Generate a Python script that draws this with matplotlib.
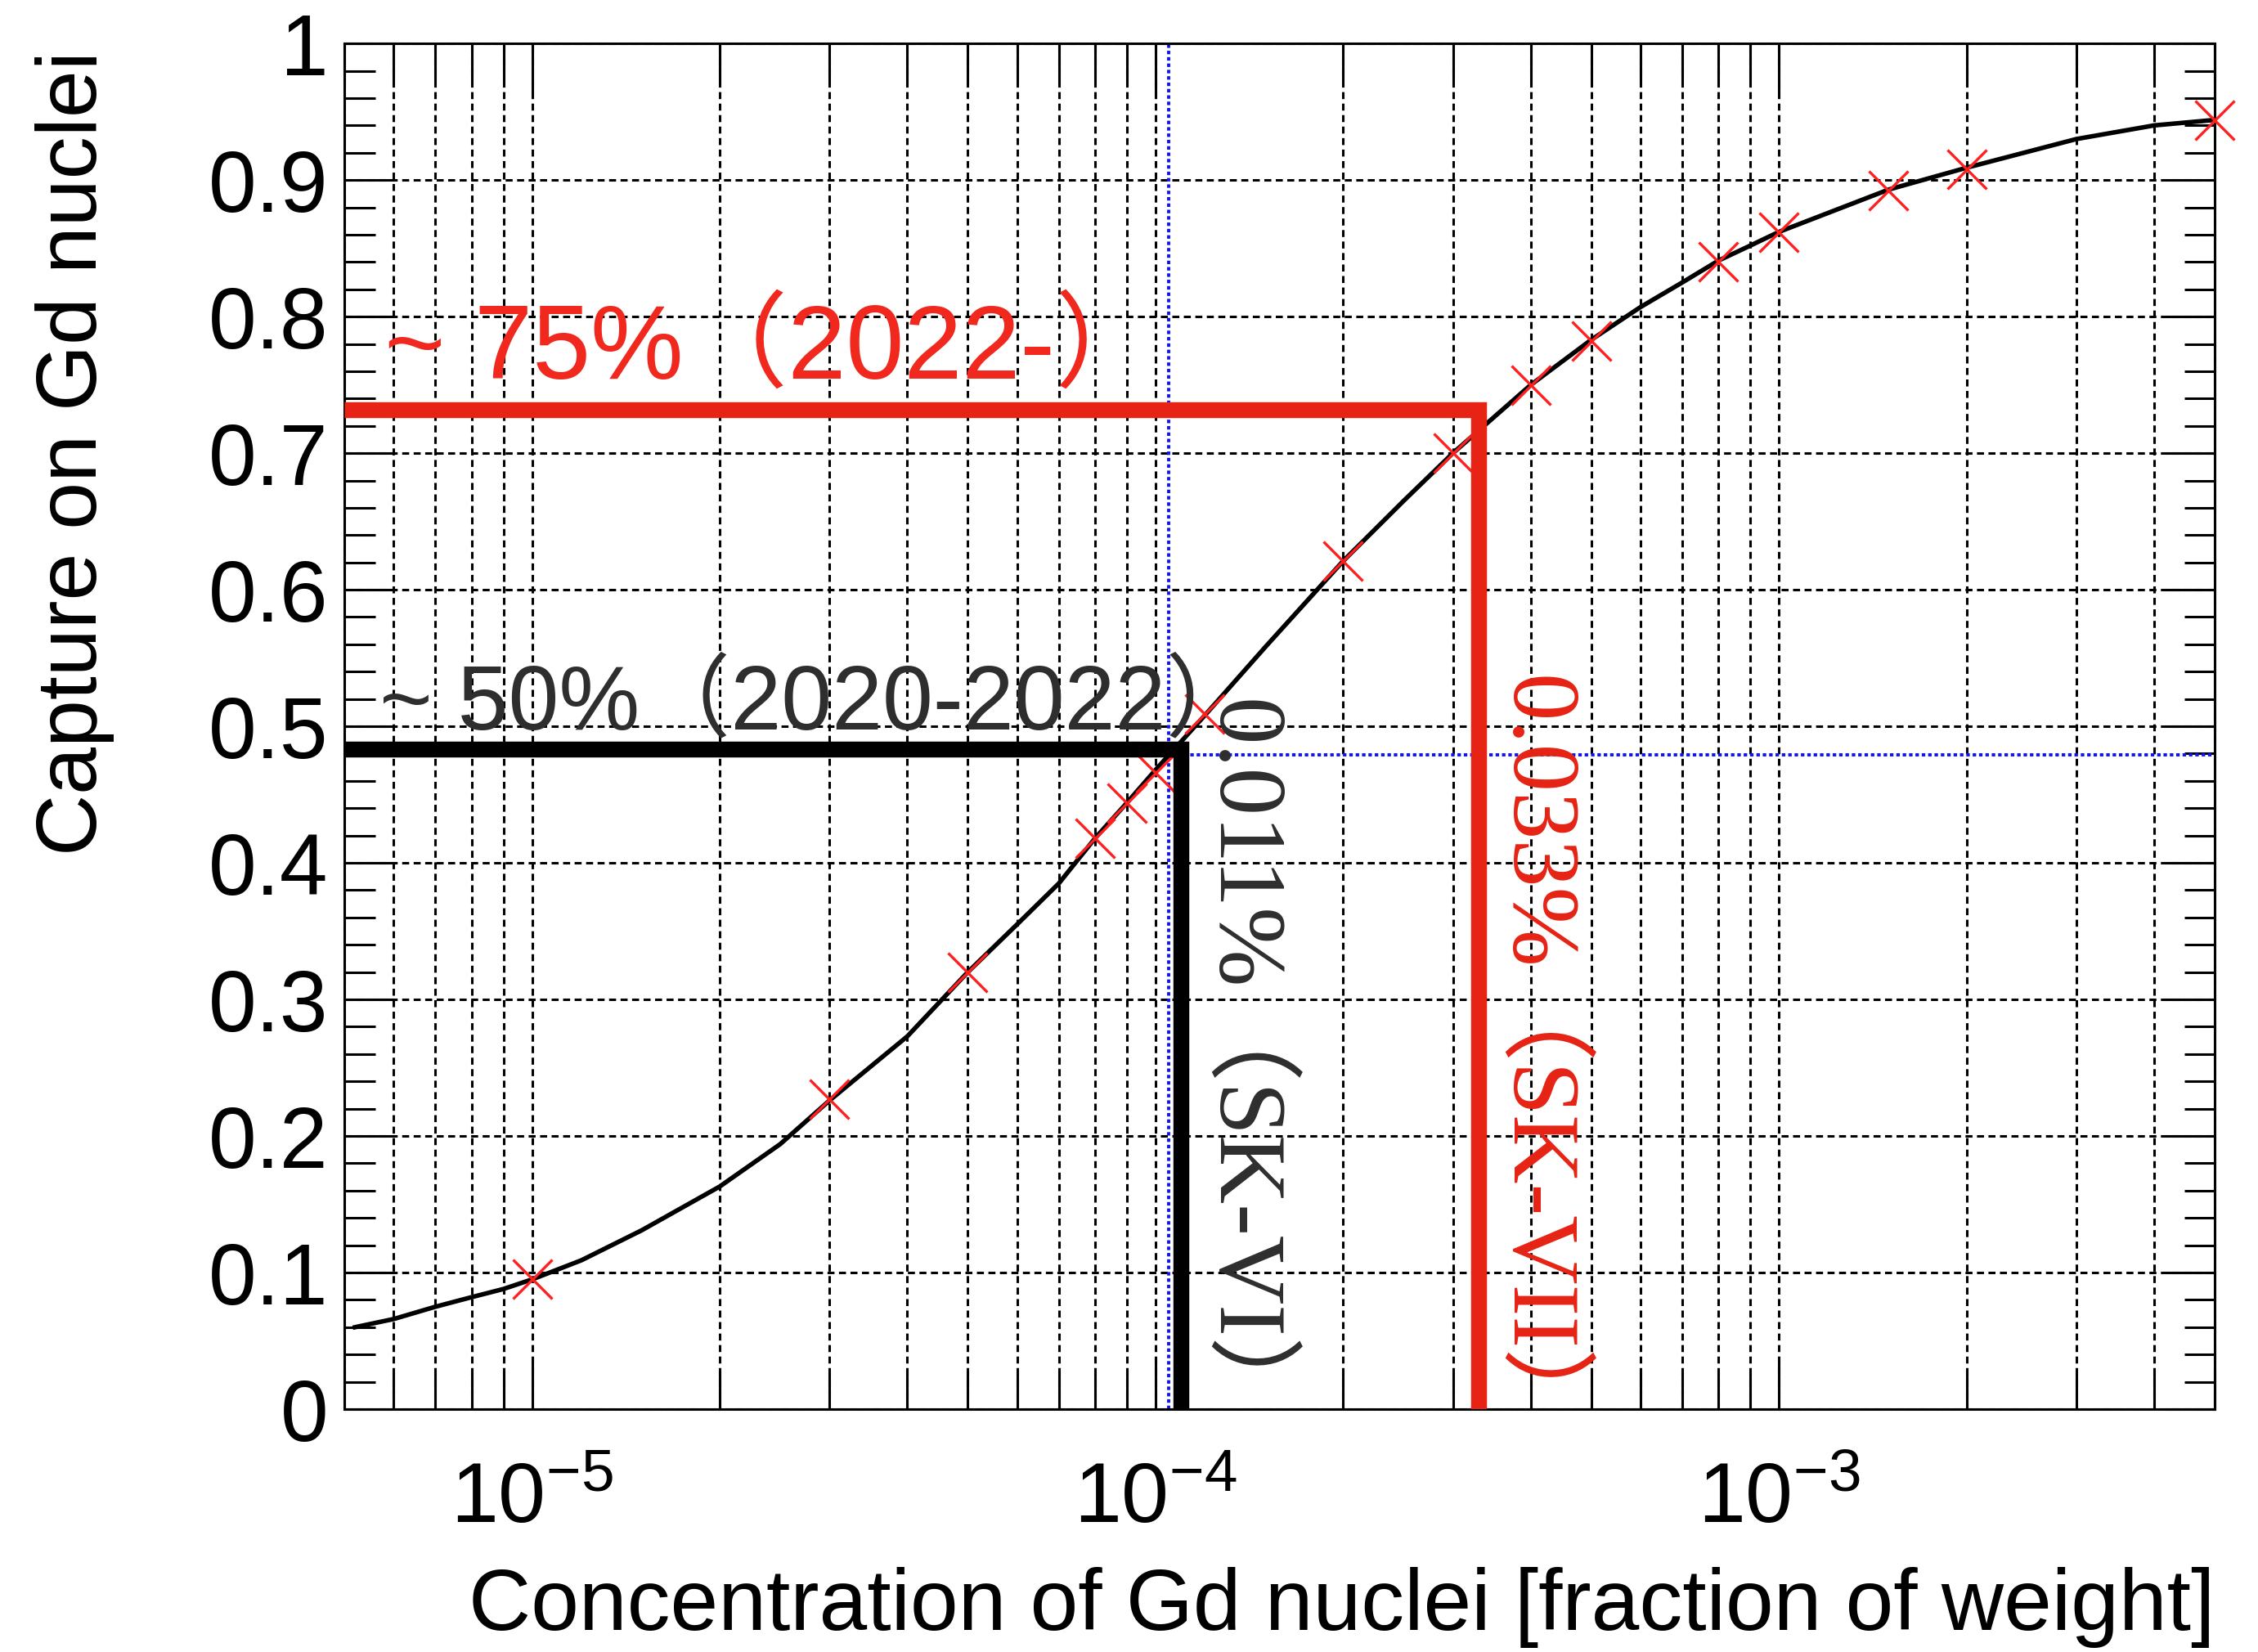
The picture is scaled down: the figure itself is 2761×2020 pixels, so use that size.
import numpy as np
import matplotlib.pyplot as plt
from matplotlib.ticker import LogLocator, FixedLocator, FixedFormatter, MultipleLocator, NullFormatter

plt.rcParams['font.family'] = ['Liberation Sans', 'Noto Sans CJK JP']
plt.rcParams['mathtext.fontset'] = 'custom'
plt.rcParams['mathtext.rm'] = 'Liberation Sans'

# Simulated points: Gd concentration [fraction of weight] vs capture fraction on Gd
conc = [1e-5, 3e-5, 5e-5, 8e-5, 9e-5, 1e-4, 1.2e-4, 2e-4, 3e-4,
        4e-4, 5e-4, 8e-4, 1e-3, 1.5e-3, 2e-3, 5e-3]
capture = [0.095, 0.227, 0.320, 0.418, 0.444, 0.466, 0.509, 0.621, 0.700,
           0.750, 0.782, 0.840, 0.862, 0.892, 0.908, 0.944]

# Fit curve through the points
fit_conc = [5.2e-6, 6e-6, 7e-6, 8e-6, 9e-6, 1e-5, 1.2e-5, 1.5e-5, 2e-5, 2.5e-5,
            3e-5, 4e-5, 5e-5, 6e-5, 7e-5, 8e-5, 9e-5, 1e-4, 1.2e-4, 1.5e-4,
            2e-4, 2.5e-4, 3e-4, 4e-4, 5e-4, 6e-4, 7e-4, 8e-4, 9e-4, 1e-3,
            1.5e-3, 2e-3, 3e-3, 4e-3, 5e-3]
fit_capture = [0.060, 0.066, 0.075, 0.082, 0.088, 0.095, 0.109, 0.131, 0.163, 0.194,
               0.226, 0.273, 0.320, 0.355, 0.385, 0.418, 0.444, 0.468, 0.508, 0.558,
               0.621, 0.665, 0.700, 0.750, 0.783, 0.807, 0.825, 0.841, 0.852, 0.862,
               0.893, 0.909, 0.930, 0.940, 0.944]

# Operating points
sk6_conc, sk6_capture = 1.1e-4, 0.483    # 0.011% (SK-VI)
sk7_conc, sk7_capture = 3.3e-4, 0.732    # 0.033% (SK-VII)
guide_conc, guide_capture = 1.05e-4, 0.479

xlim = (5e-6, 5e-3)
ylim = (0, 1)
xtick_vals = [1e-5, 1e-4, 1e-3]
xtick_labels = [r'$\mathregular{10^{-5}}$', r'$\mathregular{10^{-4}}$', r'$\mathregular{10^{-3}}$']
ytick_vals = [0, 0.1, 0.2, 0.3, 0.4, 0.5, 0.6, 0.7, 0.8, 0.9, 1.0]
ytick_labels = ['0', '0.1', '0.2', '0.3', '0.4', '0.5', '0.6', '0.7', '0.8', '0.9', '1']

RED = '#e62314'
MARK = '#ff1f1f'
GRAY = '#2e2e2e'

fig = plt.figure(figsize=(27.61, 20.20), dpi=100)
ax = fig.add_axes([0.1525, 0.1470, 0.8283, 0.8267])

ax.set_xscale('log')
ax.set_xlim(*xlim)
ax.set_ylim(*ylim)

# ticks
ax.xaxis.set_major_locator(FixedLocator(xtick_vals))
ax.xaxis.set_major_formatter(FixedFormatter(xtick_labels))
ax.xaxis.set_minor_locator(LogLocator(base=10, subs=np.arange(2, 10)))
ax.xaxis.set_minor_formatter(NullFormatter())
ax.yaxis.set_major_locator(FixedLocator(ytick_vals))
ax.yaxis.set_major_formatter(FixedFormatter(ytick_labels))
ax.yaxis.set_minor_locator(MultipleLocator(0.02))

ax.tick_params(which='both', direction='in', top=True, right=True, width=2.2, colors='black')
ax.tick_params(axis='x', which='major', length=45, pad=46, labelsize=75)
ax.tick_params(axis='x', which='minor', length=33)
ax.tick_params(axis='y', which='major', length=43, pad=14, labelsize=76)
ax.tick_params(axis='y', which='minor', length=27)
for s in ax.spines.values():
    s.set_linewidth(2.2)

# dashed grid
grid_style = dict(color='black', linewidth=2.2, linestyle=(0, (2.8, 1.8)))
ax.grid(axis='x', which='both', **grid_style)
ax.grid(axis='y', which='major', **grid_style)
ax.set_axisbelow(True)

# blue guide lines
ax.axhline(guide_capture, color='#1010ff', lw=2.8, ls=(0, (1.1, 0.9)), zorder=2)
ax.axvline(guide_conc, color='#1010ff', lw=2.8, ls=(0, (1.1, 0.9)), zorder=2)

# fit curve and points
ax.plot(fit_conc, fit_capture, color='black', lw=4, zorder=3)
ax.plot(conc, capture, ls='none', marker='x', ms=35, mew=2.4, color=MARK,
        zorder=4, clip_on=False)

# concentration markers
ax.plot([xlim[0], sk6_conc, sk6_conc], [sk6_capture, sk6_capture, 0],
        color='black', lw=14, solid_joinstyle='miter', solid_capstyle='butt', zorder=5)
ax.plot([xlim[0], sk7_conc, sk7_conc], [sk7_capture, sk7_capture, 0],
        color=RED, lw=14, solid_joinstyle='miter', solid_capstyle='butt', zorder=5)

ax.text(5.8e-6, 0.755, '~ 75%（2022-）', color='#f0281e', fontsize=92,
        ha='left', va='baseline', zorder=6)
ax.text(5.7e-6, 0.498, '~ 50%（2020-2022）', color=GRAY, fontsize=80,
        ha='left', va='baseline', zorder=6)

serif = ['Liberation Serif', 'Noto Sans CJK JP']
ax.text(1.37e-4, 0.52, '0.011%（SK-VI）', color=GRAY, fontsize=84, family=serif,
        rotation=-90, ha='center', va='top', zorder=6)
ax.text(4.05e-4, 0.537, '0.033%（SK-VII）', color=RED, fontsize=84, family=serif,
        rotation=-90, ha='center', va='top', zorder=6)

fig.text(2708 / 2761, 1 - 1993 / 2020, 'Concentration of Gd nuclei [fraction of weight]',
         fontsize=76, ha='right', va='baseline')
fig.text(92 / 2761, 1 - 62 / 2020, 'Capture on Gd nuclei', fontsize=75,
         rotation=90, ha='center', va='top')

fig.savefig('out.png', dpi=100, facecolor='white')
